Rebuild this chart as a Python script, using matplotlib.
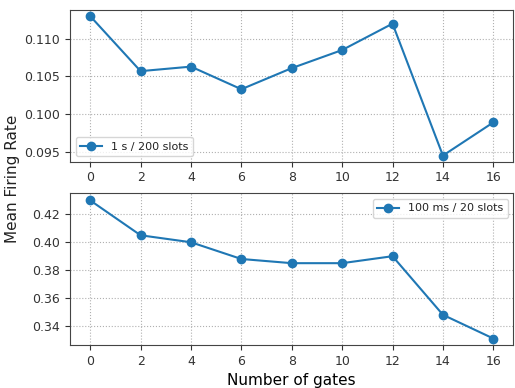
import matplotlib
matplotlib.use("Agg")
from matplotlib import pyplot as plt

gates = [0, 2, 4, 6, 8, 10, 12, 14, 16]
rate_1s = [0.1130, 0.1057, 0.1063, 0.1033, 0.1061, 0.1085, 0.1120, 0.0945, 0.0989]
rate_100ms = [0.430, 0.405, 0.400, 0.388, 0.385, 0.385, 0.390, 0.348, 0.331]

plt.rcParams['font.size'] = 9
plt.rcParams['axes.edgecolor'] = '#444444'
plt.rcParams['text.color'] = '#222222'
plt.rcParams['xtick.color'] = '#333333'
plt.rcParams['ytick.color'] = '#333333'

fig, (ax1, ax2) = plt.subplots(2, 1, figsize=(5.15, 3.88), dpi=100)
fig.subplots_adjust(left=0.136, right=0.997, top=0.974, bottom=0.111, hspace=0.21)

ax1.plot(gates, rate_1s, marker='o', label='1 s / 200 slots')
ax1.set_xticks(range(0, 17, 2))
ax1.set_yticks([0.095, 0.100, 0.105, 0.110])
ax1.set_ylim(0.0937, 0.1138)
ax1.grid(linestyle=':')
ax1.legend(loc='lower left', fontsize=8)

ax2.plot(gates, rate_100ms, marker='o', label='100 ms / 20 slots')
ax2.set_xticks(range(0, 17, 2))
ax2.set_yticks([0.34, 0.36, 0.38, 0.40, 0.42])
ax2.set_ylim(0.3264, 0.435)
ax2.grid(linestyle=':')
ax2.legend(loc='upper right', fontsize=8)
ax2.set_xlabel('Number of gates', fontsize=11)

fig.text(0.025, 0.54, 'Mean Firing Rate', rotation=90, va='center', ha='center', fontsize=11)

fig.savefig('out.png')
